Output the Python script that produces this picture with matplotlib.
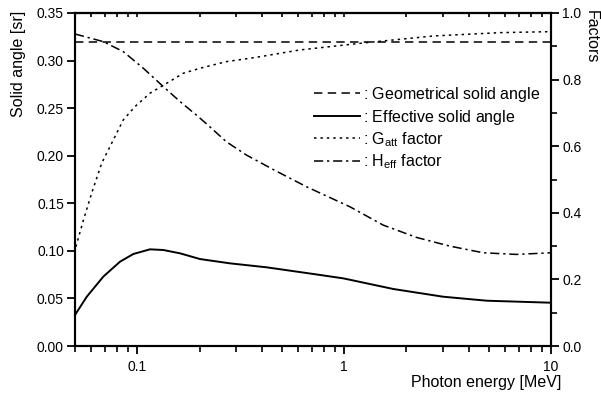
import matplotlib
matplotlib.use("Agg")
import matplotlib.pyplot as plt
from matplotlib.ticker import FixedLocator, LogLocator, NullFormatter, FormatStrFormatter

plt.rcParams['font.family'] = ['Liberation Sans', 'DejaVu Sans']
plt.rcParams['mathtext.fontset'] = 'custom'
plt.rcParams['mathtext.rm'] = 'Liberation Sans'
plt.rcParams['mathtext.it'] = 'Liberation Sans'

# Data
geo_energy = [0.05, 10]
geo_solid = [0.32, 0.32]

eff_energy = [0.05, 0.057, 0.0685, 0.0825, 0.0957, 0.1152, 0.1336, 0.161, 0.201, 0.280,
              0.422, 0.709, 0.99, 1.73, 3.01, 4.89, 10]
eff_solid = [0.0326, 0.0518, 0.0729, 0.0886, 0.0967, 0.1016, 0.1009, 0.0974, 0.0914, 0.0869,
             0.0827, 0.0757, 0.0711, 0.0599, 0.0518, 0.0476, 0.0455]

gatt_energy = [0.0505, 0.0549, 0.0602, 0.0673, 0.0752, 0.0856, 0.0975, 0.1152, 0.1387,
               0.1668, 0.2009, 0.27, 0.377, 0.61, 1.28, 2.7, 5.66, 10]
gatt_factor = [0.298, 0.378, 0.459, 0.549, 0.609, 0.679, 0.719, 0.759, 0.789,
               0.819, 0.834, 0.854, 0.867, 0.889, 0.911, 0.931, 0.941, 0.944]

heff_energy = [0.05, 0.0685, 0.0856, 0.107, 0.1336, 0.161, 0.197, 0.2245, 0.27, 0.338,
               0.454, 0.659, 1.067, 1.545, 2.24, 3.24, 4.70, 6.81, 10]
heff_factor = [0.937, 0.914, 0.884, 0.834, 0.779, 0.734, 0.689, 0.658, 0.613, 0.573,
               0.530, 0.478, 0.418, 0.363, 0.326, 0.300, 0.280, 0.275, 0.280]

left_ticks = [0.00, 0.05, 0.10, 0.15, 0.20, 0.25, 0.30, 0.35]
right_ticks = [0.0, 0.2, 0.4, 0.6, 0.8, 1.0]
right_minor = [0.1, 0.3, 0.5, 0.7, 0.9]
x_ticks = [0.1, 1, 10]
x_ticklabels = ['0.1', '1', '10']

FS_TICK = 10
FS_LAB = 11.5
fig = plt.figure(figsize=(6.01, 3.94), dpi=100)
ax = fig.add_axes([75/601, 1-346/394, 476/601, 333/394])
ax2 = ax.twinx()

lw = 1.1
l1, = ax.plot(geo_energy, geo_solid, color='black', lw=lw, linestyle=(0, (5.5, 3.5)))
l2, = ax.plot(eff_energy, eff_solid, color='black', lw=1.4, linestyle='-')
l3, = ax2.plot(gatt_energy, gatt_factor, color='black', lw=lw, linestyle=(0, (1.6, 2.6)))
l4, = ax2.plot(heff_energy, heff_factor, color='black', lw=lw, linestyle=(0, (6, 2.5, 1.5, 2.5)))

ax.set_xscale('log')
ax.set_xlim(0.05, 10)
ax.set_ylim(0, 0.35)
ax2.set_ylim(0, 1.0)

ax.set_yticks(left_ticks)
ax.yaxis.set_major_formatter(FormatStrFormatter('%.2f'))
ax2.set_yticks(right_ticks)
ax2.yaxis.set_major_formatter(FormatStrFormatter('%.1f'))
ax2.yaxis.set_minor_locator(FixedLocator(right_minor))

ax.xaxis.set_major_locator(FixedLocator(x_ticks))
ax.set_xticklabels(x_ticklabels)
ax.xaxis.set_minor_locator(LogLocator(base=10, subs=range(2, 10)))
ax.xaxis.set_minor_formatter(NullFormatter())

# top axis with inward ticks
top = ax.secondary_xaxis('top')
top.xaxis.set_major_locator(FixedLocator(x_ticks))
top.xaxis.set_minor_locator(LogLocator(base=10, subs=range(2, 10)))
top.xaxis.set_major_formatter(NullFormatter())
top.xaxis.set_minor_formatter(NullFormatter())
top.tick_params(which='major', direction='in', length=3, width=1.2)
top.tick_params(which='minor', direction='in', length=3, width=1.2)

for a in (ax, ax2):
    for s in a.spines.values():
        s.set_linewidth(1.5)
top.spines['top'].set_linewidth(1.5)

ax.tick_params(axis='y', which='major', direction='out', length=6, width=1.3, labelsize=FS_TICK, pad=2)
ax.tick_params(axis='x', which='major', direction='out', length=6, width=1.3, labelsize=FS_TICK, pad=4)
ax.tick_params(axis='x', which='minor', direction='out', length=4, width=1.2)
ax2.tick_params(axis='y', which='major', direction='out', length=6, width=1.3, labelsize=FS_TICK, pad=2)
ax2.tick_params(axis='y', which='minor', direction='out', length=4, width=1.2)

fig.text(19/601, 1-64/394, 'Solid angle [sr]', rotation=90, ha='center', va='center', fontsize=FS_LAB)
fig.text(591/601, 1-37/394, 'Factors', rotation=270, ha='center', va='center', fontsize=FS_LAB)
fig.text(561/601, 1-383/394, 'Photon energy [MeV]', ha='right', va='center', fontsize=FS_LAB)

pad = r'$\mathregular{_{\ }}$'
labels = [': Geometrical solid angle' + pad, ': Effective solid angle' + pad,
          r': G$_{\mathregular{att}}$ factor', r': H$_{\mathregular{eff}}$ factor']
leg = ax2.legend([l1, l2, l3, l4], labels, loc='upper left',
                 bbox_to_anchor=((314-75)/476, (346-85)/333), frameon=False,
                 borderaxespad=0, borderpad=0, handlelength=2.85, handletextpad=0.2,
                 labelspacing=0.22, fontsize=FS_LAB)

fig.savefig('out.png', dpi=100)
